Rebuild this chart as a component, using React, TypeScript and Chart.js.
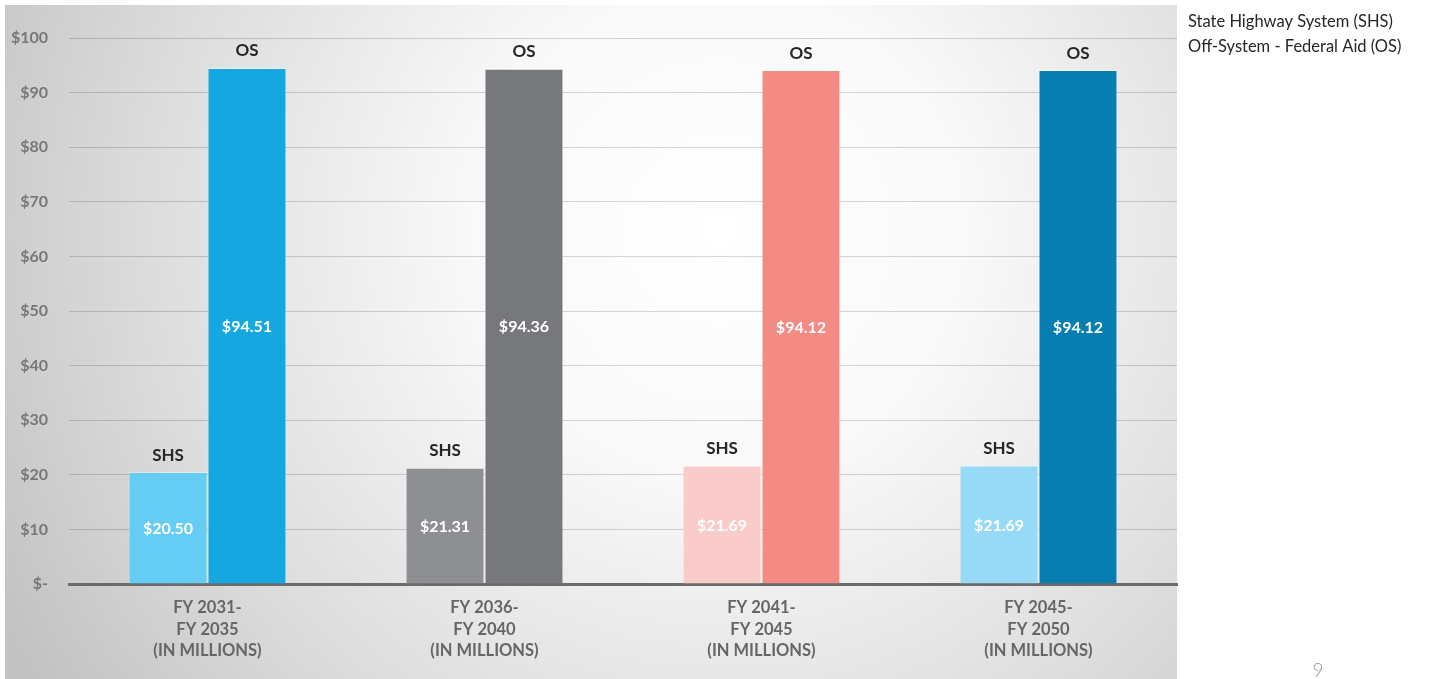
import React, { useEffect, useRef } from "react";
import { Chart, registerables } from "chart.js";

Chart.register(...registerables);

const categories: string[][] = [
  ["FY 2031-", "FY 2035", "(IN MILLIONS)"],
  ["FY 2036-", "FY 2040", "(IN MILLIONS)"],
  ["FY 2041-", "FY 2045", "(IN MILLIONS)"],
  ["FY 2045-", "FY 2050", "(IN MILLIONS)"],
];
const shsValues = [20.5, 21.31, 21.69, 21.69];
const osValues = [94.51, 94.36, 94.12, 94.12];
const shsColors = ["#65CDF4", "#8E8F92", "#F9CBCA", "#96DAF7"];
const osColors = ["#15A8E0", "#77787C", "#F38A84", "#067EB2"];
const seriesNames = ["State Highway System (SHS)", "Off-System - Federal Aid (OS)"];
const seriesShort = ["SHS", "OS"];
const yTicks = [0, 10, 20, 30, 40, 50, 60, 70, 80, 90, 100];
const pageNumber = "9";

const FONT = "Lato, 'Open Sans', sans-serif";

const backgroundPlugin = {
  id: "panelBg",
  beforeDraw(chart: any) {
    const ctx = chart.ctx;
    const right = chart.chartArea.right;
    ctx.save();
    const g = ctx.createRadialGradient(720, 230, 0, 720, 230, 820);
    g.addColorStop(0, "#ffffff");
    g.addColorStop(0.3, "#f9f9f9");
    g.addColorStop(0.7, "#dcdcdc");
    g.addColorStop(1, "#c2c2c2");
    ctx.fillStyle = g;
    ctx.fillRect(5, 5, right - 5, chart.height - 5);
    ctx.restore();
  },
};

const labelsPlugin = {
  id: "barLabels",
  afterDatasetsDraw(chart: any) {
    const ctx = chart.ctx;
    ctx.save();
    ctx.textAlign = "center";
    ctx.textBaseline = "middle";
    chart.data.datasets.forEach((ds: any, di: number) => {
      const meta = chart.getDatasetMeta(di);
      meta.data.forEach((bar: any, i: number) => {
        const v = ds.data[i] as number;
        ctx.font = `bold 17px ${FONT}`;
        ctx.fillStyle = "#262626";
        ctx.fillText(seriesShort[di], bar.x, bar.y - 17);
        ctx.font = `bold 16px ${FONT}`;
        ctx.fillStyle = "#ffffff";
        ctx.fillText("$" + v.toFixed(2), bar.x, (bar.y + bar.base) / 2 + 1);
      });
    });
    // legend
    ctx.textAlign = "left";
    ctx.font = `16.5px ${FONT}`;
    ctx.fillStyle = "#262626";
    seriesNames.forEach((n, i) => ctx.fillText(n, 1188, 22 + i * 25));
    // page number
    ctx.textAlign = "center";
    ctx.font = `300 19px ${FONT}`;
    ctx.fillStyle = "#9a9a9a";
    ctx.fillText(pageNumber, 1318, 671);
    ctx.restore();
  },
};

export default function App() {
  const ref = useRef<HTMLCanvasElement>(null);
  useEffect(() => {
    if (!ref.current) return;
    const chart = new Chart(ref.current, {
      type: "bar",
      data: {
        labels: categories,
        datasets: [
          {
            label: seriesNames[0],
            data: shsValues,
            backgroundColor: shsColors,
            borderColor: "rgba(255,255,255,0.35)",
            borderWidth: 1,
            categoryPercentage: 0.57,
            barPercentage: 1,
          },
          {
            label: seriesNames[1],
            data: osValues,
            backgroundColor: osColors,
            borderColor: "rgba(255,255,255,0.35)",
            borderWidth: 1,
            categoryPercentage: 0.57,
            barPercentage: 1,
          },
        ],
      },
      options: {
        animation: false,
        responsive: true,
        maintainAspectRatio: false,
        layout: { padding: { left: 0, top: 38, right: 254, bottom: 0 } },
        plugins: { legend: { display: false }, tooltip: { enabled: false } },
        scales: {
          x: {
            grid: { display: false, drawTicks: false },
            border: { display: true, color: "#6b6b6b", width: 3 },
            ticks: {
              color: "#666666",
              font: { family: FONT, size: 16.5, weight: "bold", lineHeight: 1.3 },
              padding: 13,
              maxRotation: 0,
              autoSkip: false,
            },
            afterFit(s: any) {
              s.height = 95;
            },
          },
          y: {
            min: 0,
            max: 100,
            afterBuildTicks(s: any) {
              s.ticks = yTicks.map((v) => ({ value: v }));
            },
            grid: {
              color: "rgba(0,0,0,0.16)",
              lineWidth: 1,
              drawTicks: false,
            },
            border: { display: false },
            ticks: {
              color: "#777777",
              font: { family: FONT, size: 16, weight: "bold" },
              padding: 21,
              callback: (v: any) => (Number(v) === 0 ? "$-" : "$" + v),
            },
            afterFit(s: any) {
              s.width = 69;
            },
          },
        },
      },
      plugins: [backgroundPlugin, labelsPlugin],
    });
    return () => chart.destroy();
  }, []);
  return (
    <div style={{ position: "fixed", left: 0, top: 0, width: 1431, height: 679, background: "#ffffff" }}>
      <canvas ref={ref} />
    </div>
  );
}
